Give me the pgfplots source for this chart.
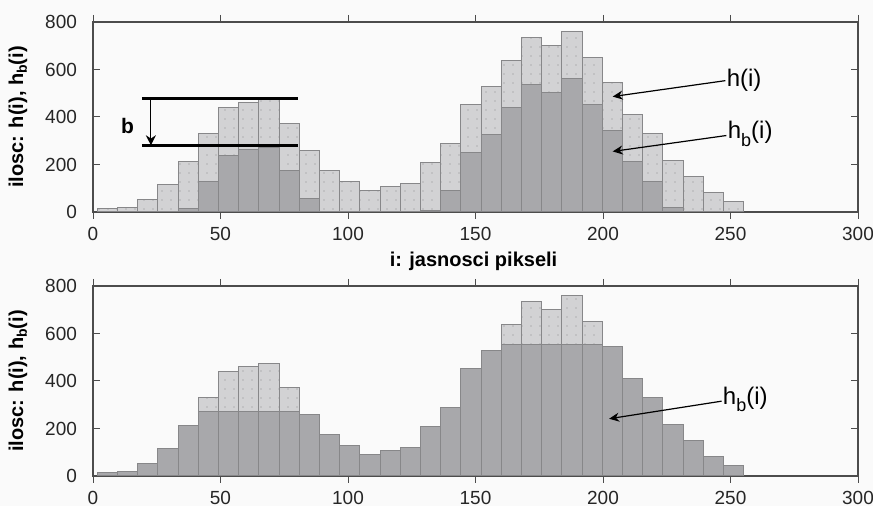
\documentclass[border=0pt]{standalone}
\usepackage{fontspec}
\setmainfont{Liberation Sans}
\usepackage{pgfplots}
\usepackage{pgfplotstable}
\pgfplotsset{compat=1.18}
\usetikzlibrary{arrows.meta,patterns.meta}

\definecolor{barlight}{RGB}{210,210,212}
\definecolor{bardark}{RGB}{168,168,171}
\definecolor{baredge}{RGB}{135,135,137}
\definecolor{bg}{RGB}{250,250,250}

% x = bin centre, h = h(i), hb = h(i)-b (top), hc = clipped h_b(i) (bottom)
\pgfplotstableread{
x      h   hb   hc
5.66   14  0    14
13.58  20  0    20
21.50  52  0    52
29.42  115 0    115
37.34  213 13   213
45.26  329 129  272
53.18  438 238  272
61.10  463 263  272
69.02  472 272  272
76.94  373 173  272
84.86  258 58   258
92.78  175 0    175
100.70 128 0    128
108.62 90  0    90
116.54 108 0    108
124.46 121 0    121
132.38 207 7    207
140.30 290 90   290
148.22 451 251  451
156.14 528 328  528
164.06 639 439  555
171.98 735 535  555
179.90 703 503  555
187.82 762 562  555
195.74 651 451  555
203.66 545 345  545
211.58 411 211  411
219.50 329 129  329
227.42 218 18   218
235.34 148 0    148
243.26 84  0    84
251.18 45  0    45
}\histdata

\pgfplotsset{
  histo/.style={
    scale only axis, width=382.5pt,
    xmin=0, xmax=300, ymin=0, ymax=800,
    xtick={0,50,...,300}, ytick={0,200,...,800},
    tick align=inside, major tick length=3.5pt,
    axis line style={draw=black!70, line width=0.6pt},
    tick style={draw=black!70, line width=0.5pt},
    ticklabel style={font=\fontsize{9.5}{10}\selectfont, text=black!85},
    /pgf/number format/assume math mode=true,
    yticklabel style={xshift=-4.5pt},
    xticklabel style={yshift=-0.5pt},
    ybar, bar width=7.92, bar shift=0pt,
    clip=false,
  },
  lightbar/.style={fill=barlight, draw=baredge, line width=0.5pt,
    postaction={pattern={Dots[distance=4.5pt,radius=0.28pt]}, pattern color=black!45}},
  darkbar/.style={fill=bardark, draw=baredge, line width=0.5pt},
}

\newcommand{\ylab}{\bfseries ilosc: h(i), h\raisebox{-0.35ex}{\fontsize{7}{8}\selectfont b}(i)}

\begin{document}
\begin{tikzpicture}
\useasboundingbox (0,0) rectangle (436.5pt,253pt);
\fill[bg] (0,0) rectangle (436.5pt,253pt);

% top panel
\begin{axis}[histo, height=95pt, at={(46.5pt,147pt)}]
\addplot[lightbar] table[x=x,y=h] {\histdata};
\addplot[darkbar] table[x=x,y=hb] {\histdata};
\draw[line width=1.5pt] (axis cs:19.2,477) -- (axis cs:80.4,477);
\draw[line width=1.5pt] (axis cs:19.2,279) -- (axis cs:80.4,279);
\draw[line width=0.6pt,-{Stealth[length=5pt,width=5pt]}] (axis cs:22.7,477) -- (axis cs:22.7,281);
\node[font=\fontsize{10.5}{12}\selectfont\bfseries] at (axis cs:13.5,360) {b};
\draw[line width=0.6pt,-{Stealth[length=5pt,width=4.5pt]}] (axis cs:248,553) -- (axis cs:203.8,486);
\node[anchor=west, inner sep=0.5pt, font=\fontsize{12}{14}\selectfont] at (axis cs:248,553) {h(i)};
\draw[line width=0.6pt,-{Stealth[length=5pt,width=4.5pt]}] (axis cs:248.4,322) -- (axis cs:203.8,255);
\node[anchor=west, inner sep=0.5pt, font=\fontsize{12}{14}\selectfont] at (axis cs:248.4,330) {h\raisebox{-0.6ex}{\fontsize{9}{10}\selectfont b}(i)};
\node[font=\fontsize{10}{12}\selectfont\bfseries] at ([yshift=-24.5pt,xshift=-1pt]rel axis cs:0.5,0) {i: jasnosci pikseli};
\node[rotate=90, font=\fontsize{10}{12}\selectfont] at ([xshift=-37.5pt]rel axis cs:0,0.5) {\ylab};
\end{axis}

% bottom panel
\begin{axis}[histo, height=95pt, at={(46.5pt,15pt)}]
\addplot[lightbar] table[x=x,y=h] {\histdata};
\addplot[darkbar] table[x=x,y=hc] {\histdata};
\draw[line width=0.6pt,-{Stealth[length=5pt,width=4.5pt]}] (axis cs:246.5,315) -- (axis cs:202.4,241);
\node[anchor=west, inner sep=0.5pt, font=\fontsize{12}{14}\selectfont] at (axis cs:246.5,322) {h\raisebox{-0.6ex}{\fontsize{9}{10}\selectfont b}(i)};
\node[rotate=90, font=\fontsize{10}{12}\selectfont] at ([xshift=-37.5pt]rel axis cs:0,0.5) {\ylab};
\end{axis}
\end{tikzpicture}
\end{document}
